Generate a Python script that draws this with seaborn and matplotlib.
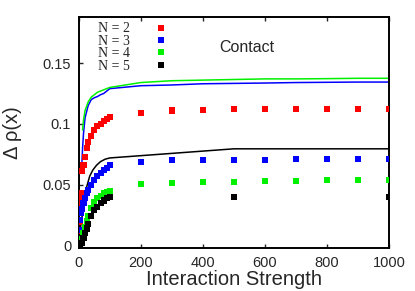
import numpy as np
import pandas as pd
import matplotlib
matplotlib.use("Agg")
import matplotlib.pyplot as plt
import seaborn as sns

# ---------------------------------------------------------------
# dados (pontos = simulação, linhas = aproximação)
# ---------------------------------------------------------------
far_x = [200, 300, 400, 500, 600, 700, 800, 900, 1000]

n2_x = [1, 2, 3, 4, 5, 6, 8, 10, 15, 20, 25, 30, 40, 50, 60, 70, 80, 90, 100] + far_x
n2_y = [0.005, 0.012, 0.019, 0.027, 0.034, 0.038, 0.043, 0.061, 0.066, 0.073, 0.080,
        0.085, 0.090, 0.095, 0.098, 0.100, 0.102, 0.104, 0.106,
        0.109, 0.111, 0.1115, 0.112, 0.112, 0.112, 0.1122, 0.1125, 0.1125]

n3_x = [1, 2, 4, 6, 10, 15, 20, 25, 30, 40, 50, 60, 70, 80, 90, 100] + far_x
n3_y = [0.005, 0.013, 0.021, 0.027, 0.030, 0.035, 0.039, 0.043, 0.046, 0.050, 0.054,
        0.057, 0.060, 0.062, 0.064, 0.066,
        0.069, 0.070, 0.0705, 0.0705, 0.0705, 0.071, 0.071, 0.0713, 0.0713]

n4_x = [2, 5, 10, 15, 20, 25, 30, 40, 50, 60, 70, 80, 90, 100] + far_x
n4_y = [0.0, 0.002, 0.005, 0.010, 0.015, 0.020, 0.024, 0.031, 0.036, 0.039, 0.041,
        0.043, 0.044, 0.045,
        0.0505, 0.0516, 0.052, 0.0525, 0.053, 0.0533, 0.054, 0.054, 0.0537]

n5_x = [2, 5, 10, 15, 20, 25, 30, 40, 50, 60, 70, 80, 90, 100, 500, 1000]
n5_y = [0.0, 0.0, 0.002, 0.006, 0.010, 0.014, 0.018, 0.024, 0.029, 0.032, 0.035,
        0.037, 0.039, 0.040, 0.040, 0.040]

# curvas contínuas
l3_x = [10, 12, 15, 20, 30, 40, 50, 60, 70, 80, 90, 100] + far_x
l3_y = [0.069, 0.080, 0.092, 0.105, 0.115, 0.120, 0.1215, 0.1225, 0.124, 0.125, 0.127,
        0.129, 0.1314, 0.132, 0.133, 0.1333, 0.1336, 0.134, 0.1342, 0.1344, 0.1344]

l4_x = [12, 15, 20, 30, 40, 50, 60, 70, 80, 90, 100] + far_x
l4_y = [0.095, 0.103, 0.111, 0.118, 0.122, 0.124, 0.126, 0.127, 0.128, 0.129, 0.130,
        0.134, 0.1355, 0.136, 0.1365, 0.137, 0.137, 0.1372, 0.1375, 0.1375]

l5_x = [3, 5, 9, 15, 19, 25, 35, 45, 57, 70, 85, 100, 500, 1000]
l5_y = [0.010, 0.014, 0.021, 0.033, 0.040, 0.048, 0.057, 0.062, 0.066, 0.069, 0.071,
        0.072, 0.0795, 0.0795]

labels = ["N = 2", "N = 3", "N = 4", "N = 5"]
cores = ["#ff0000", "#0000ff", "#00f000", "#000000"]

# ---------------------------------------------------------------
# monta dataframes em formato longo
# ---------------------------------------------------------------
pts = pd.concat([
    pd.DataFrame({"x": n2_x, "y": n2_y, "N": labels[0]}),
    pd.DataFrame({"x": n3_x, "y": n3_y, "N": labels[1]}),
    pd.DataFrame({"x": n4_x, "y": n4_y, "N": labels[2]}),
    pd.DataFrame({"x": n5_x, "y": n5_y, "N": labels[3]}),
], ignore_index=True)

linhas = pd.concat([
    pd.DataFrame({"x": l3_x, "y": l3_y, "N": labels[1]}),
    pd.DataFrame({"x": l4_x, "y": l4_y, "N": labels[2]}),
    pd.DataFrame({"x": l5_x, "y": l5_y, "N": labels[3]}),
], ignore_index=True)

sns.set_style("ticks")
plt.rcParams["font.family"] = ["Liberation Sans", "DejaVu Sans"]

fig = plt.figure(figsize=(4.15, 2.91), dpi=100)
ax = fig.add_axes([0.190, 0.148, 0.747, 0.794])

pal = dict(zip(labels, cores))
sns.lineplot(data=linhas, x="x", y="y", hue="N", palette=pal, ax=ax,
             linewidth=1.1, legend=False, sort=False)
sns.scatterplot(data=pts, x="x", y="y", hue="N", palette=pal, ax=ax,
                marker="s", s=19, linewidth=0, zorder=3)

ax.set_xlim(0, 1000)
ax.set_ylim(-0.002, 0.188)
ax.set_xticks([0, 200, 400, 600, 800, 1000])
ax.set_yticks([0, 0.05, 0.1, 0.15])
ax.set_yticklabels(["0", "0.05", "0.1", "0.15"])
ax.tick_params(direction="in", top=True, right=False, labelsize=10.5,
               length=3, width=1.0, pad=5.5)
for s in ax.spines.values():
    s.set_linewidth(1.4)
    s.set_color("black")

ax.set_xlabel("Interaction Strength", fontsize=14.5)
ax.set_ylabel("Δ ρ(x)", fontsize=14.5)
ax.xaxis.set_label_coords(0.5, -0.095)
ax.yaxis.set_label_coords(-0.184, 0.5)

ax.text(452, 0.163, "Contact", fontsize=11.5, va="center", ha="left")

leg = ax.legend(loc="upper left", bbox_to_anchor=(0.045, 1.0), frameon=False,
                markerfirst=False, handletextpad=1.9, labelspacing=-0.04,
                prop={"family": "Liberation Serif", "size": 10},
                borderaxespad=0, handlelength=0.6)

plt.savefig("out.png", dpi=100)
